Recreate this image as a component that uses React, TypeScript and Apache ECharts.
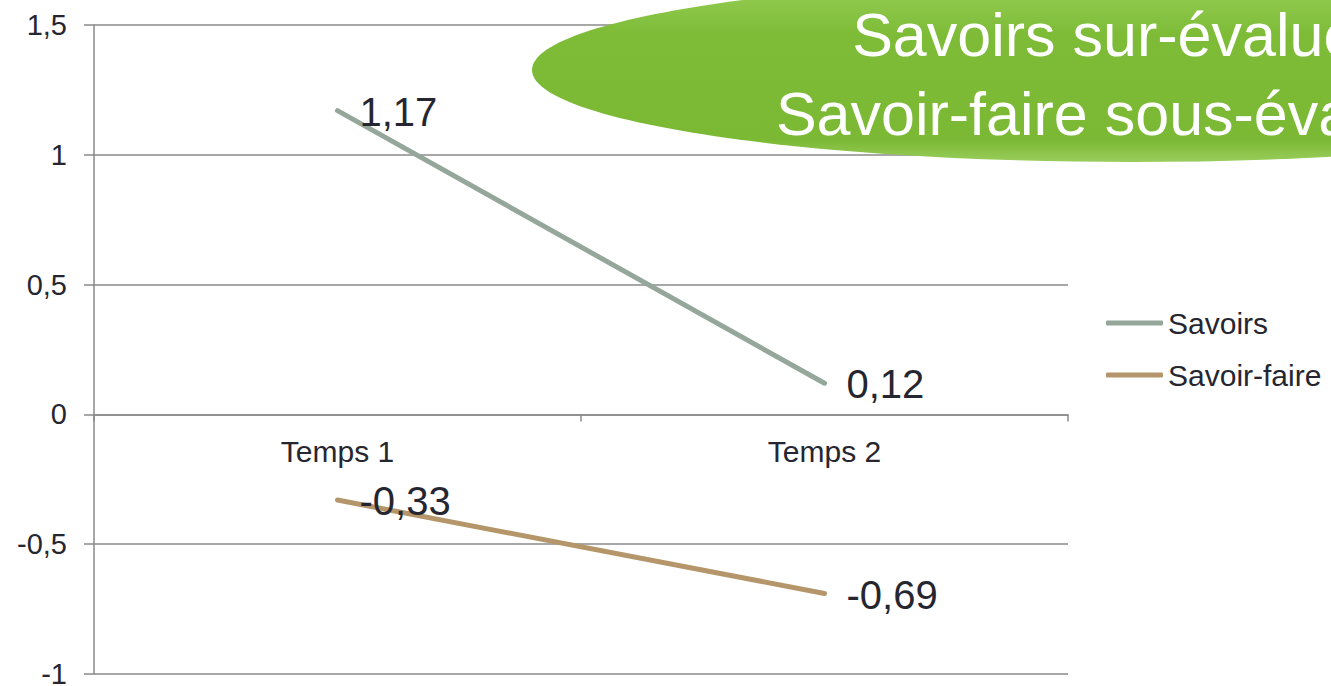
import React, { useEffect, useRef } from "react";
import * as echarts from "echarts";

const categories = ["Temps 1", "Temps 2"];
const savoirs = [1.17, 0.12];
const savoirFaire = [-0.33, -0.69];
const seriesNames = ["Savoirs", "Savoir-faire"];
const titleLines = ["Savoirs sur-évalués", "Savoir-faire sous-évalués"];
const yMin = -1;
const yMax = 1.5;
const yInterval = 0.5;

const FONT = "'Liberation Sans', Arial, sans-serif";
const TEXT = "#262630";
const GRID = "#8a8a8a";
const C1 = "#94a79a";
const C2 = "#b4966a";

const GRID_TOP = 25;
const GRID_BOTTOM = 12;
const CHART_H = 686;

const fmt = (v: number) => String(v).replace(".", ",");

export default function App() {
  const ref = useRef<HTMLDivElement>(null);
  useEffect(() => {
    if (!ref.current) return;
    const chart = echarts.init(ref.current, undefined, { renderer: "svg" });
    const plotH = CHART_H - GRID_TOP - GRID_BOTTOM;
    const zeroFromBottom = ((0 - yMin) / (yMax - yMin)) * plotH;
    const labelCfg = {
      show: true,
      position: "right" as const,
      distance: 21,
      fontSize: 40,
      fontFamily: FONT,
      color: TEXT,
      offset: [0, 1],
      formatter: (p: any) => fmt(p.value),
    };
    const mkSeries = (name: string, data: number[], color: string) => ({
      name,
      type: "line",
      data,
      symbol: "circle",
      symbolSize: 2,
      itemStyle: { color: "transparent", borderWidth: 0 },
      lineStyle: { color, width: 5, cap: "round" },
      label: labelCfg,
      emphasis: { disabled: true },
    });
    chart.setOption({
      animation: false,
      backgroundColor: "#ffffff",
      textStyle: { fontFamily: FONT },
      grid: {
        left: 94,
        right: 263,
        top: GRID_TOP,
        bottom: GRID_BOTTOM,
        containLabel: false,
        outerBoundsMode: "none",
      },
      legend: {
        orient: "vertical",
        left: 1101,
        top: 303,
        itemWidth: 57,
        itemHeight: 5,
        itemGap: 22,
        icon: "roundRect",
        data: [
          { name: seriesNames[0], itemStyle: { color: C1 } },
          { name: seriesNames[1], itemStyle: { color: C2 } },
        ],
        textStyle: { fontSize: 30, color: TEXT, fontFamily: FONT },
      },
      xAxis: {
        type: "category",
        data: categories,
        boundaryGap: true,
        offset: -zeroFromBottom,
        axisLine: { onZero: false, lineStyle: { color: GRID, width: 1.5 } },
        axisTick: { show: true, length: 7, lineStyle: { color: GRID, width: 1.5 } },
        axisLabel: { fontSize: 30, color: TEXT, margin: 22, fontFamily: FONT },
        splitLine: { show: false },
      },
      yAxis: {
        type: "value",
        min: yMin,
        max: yMax,
        interval: yInterval,
        axisLine: { show: true, lineStyle: { color: GRID, width: 1.5 } },
        axisTick: { show: true, length: 10, lineStyle: { color: GRID, width: 1.5 } },
        axisLabel: {
          fontSize: 29,
          color: TEXT,
          margin: 27,
          fontFamily: FONT,
          formatter: (v: number) => fmt(v),
        },
        splitLine: { show: true, lineStyle: { color: GRID, width: 1.5 } },
      },
      series: [
        mkSeries(seriesNames[0], savoirs, C1),
        mkSeries(seriesNames[1], savoirFaire, C2),
      ],
      graphic: [
        {
          type: "ellipse",
          z: 100,
          shape: { cx: 1132, cy: 70, rx: 600, ry: 92 },
          style: {
            fill: new echarts.graphic.LinearGradient(0, 0, 0, 1, [
              { offset: 0, color: "#b4df75" },
              { offset: 0.12, color: "#8fc84b" },
              { offset: 0.3, color: "#7ebc38" },
              { offset: 0.88, color: "#7bb934" },
              { offset: 1, color: "#9acd5c" },
            ]),
          },
        },
        {
          type: "text",
          z: 101,
          x: 1120,
          y: 35,
          style: {
            text: titleLines[0],
            fill: "#ffffff",
            fontSize: 61,
            fontFamily: FONT,
            textAlign: "center",
            textVerticalAlign: "middle",
          },
        },
        {
          type: "text",
          z: 101,
          x: 1120,
          y: 114,
          style: {
            text: titleLines[1],
            fill: "#ffffff",
            fontSize: 61,
            fontFamily: FONT,
            textAlign: "center",
            textVerticalAlign: "middle",
          },
        },
      ],
    });
    return () => chart.dispose();
  }, []);
  return (
    <div
      ref={ref}
      style={{ position: "fixed", left: 0, top: 0, width: 1331, height: 686 }}
    />
  );
}
